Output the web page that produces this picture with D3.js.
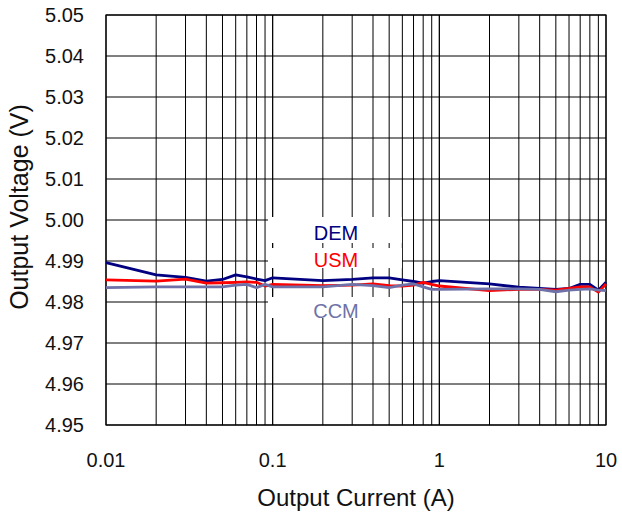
<!DOCTYPE html>
<html><head><meta charset="utf-8">
<script src="https://cdn.jsdelivr.net/npm/d3@7"></script>
<style>body{margin:0;background:#fff;} text{font-family:"Liberation Sans",Arial,sans-serif;}</style>
</head><body><svg id="c" width="622" height="513"></svg>
<script>
const currents = [0.01,0.02,0.03,0.04,0.05,0.06,0.07,0.08,0.09,0.1,0.2,0.3,0.4,0.5,0.6,0.7,0.8,0.9,1,2,3,4,5,6,7,8,9,10];
const demValues = [4.9896,4.9866,4.9860,4.9851,4.9855,4.9866,4.9861,4.9856,4.9852,4.9859,4.9852,4.9855,4.9859,4.9859,4.9854,4.9850,4.9846,4.9850,4.9852,4.9844,4.9836,4.9833,4.9831,4.9833,4.9843,4.9843,4.9829,4.9848];
const usmValues = [4.9854,4.9851,4.9856,4.9846,4.9847,4.9848,4.9849,4.9848,4.9839,4.9843,4.9840,4.9841,4.9844,4.9840,4.9839,4.9841,4.9848,4.9843,4.9839,4.9828,4.9831,4.9831,4.9829,4.9833,4.9837,4.9837,4.9824,4.9844];
const ccmValues = [4.9835,4.9837,4.9837,4.9837,4.9837,4.9841,4.9843,4.9835,4.9843,4.9837,4.9837,4.9843,4.9840,4.9835,4.9841,4.9844,4.9837,4.9831,4.9831,4.9832,4.9832,4.9831,4.9825,4.9829,4.9831,4.9832,4.9829,4.9828];
const seriesNames = ["DEM","USM","CCM"];
const seriesColors = ["#000080","#ff0000","#6e72a8"];
const yTicks = [4.95,4.96,4.97,4.98,4.99,5.00,5.01,5.02,5.03,5.04,5.05];
const xTicks = [0.01,0.1,1,10];
const xTickLabels = ["0.01","0.1","1","10"];
const xTitle = "Output Current (A)";
const yTitle = "Output Voltage (V)";

const svg = d3.select("#c");
const L=106, R=606, T=15, B=425;
const x = d3.scaleLog().domain([0.01,10]).range([L,R]);
const y = d3.scaleLinear().domain([4.95,5.05]).range([B,T]);

const minor = [];
for (let d of [0.01,0.1,1]) for (let k=1;k<=10;k++) minor.push(d*k);
svg.append("g").selectAll("line").data(minor).join("line")
  .attr("x1",d=>x(d)).attr("x2",d=>x(d)).attr("y1",T).attr("y2",B)
  .attr("stroke","#000").attr("stroke-width",1);
svg.append("g").selectAll("line").data(yTicks).join("line")
  .attr("x1",L).attr("x2",R).attr("y1",d=>y(d)).attr("y2",d=>y(d))
  .attr("stroke","#000").attr("stroke-width",1);
svg.append("rect").attr("x",L).attr("y",T).attr("width",R-L).attr("height",B-T)
  .attr("fill","none").attr("stroke","#000").attr("stroke-width",1.2);

const boxes = [[268,217,134,26],[268,248,134,20],[268,297,134,21]];
svg.append("g").selectAll("rect").data(boxes).join("rect")
  .attr("x",d=>d[0]).attr("y",d=>d[1]).attr("width",d=>d[2]).attr("height",d=>d[3]).attr("fill","#fff");

const all = [demValues, usmValues, ccmValues];
const line = d3.line().x((d,i)=>x(currents[i])).y(d=>y(d));
all.forEach((vals,i)=>{
  svg.append("path").attr("d",line(vals)).attr("fill","none")
    .attr("stroke",seriesColors[i]).attr("stroke-width",2.8).attr("stroke-linejoin","round");
});

const labelPos = [[336,240],[336,267],[336,318]];
seriesNames.forEach((n,i)=>{
  svg.append("text").attr("x",labelPos[i][0]).attr("y",labelPos[i][1]).attr("text-anchor","middle")
    .attr("font-size",20).attr("fill",seriesColors[i]).text(n);
});

svg.append("g").selectAll("text").data(yTicks).join("text")
  .attr("x",84).attr("y",d=>y(d)+7).attr("text-anchor","end").attr("font-size",20).attr("fill","#111")
  .text(d=>d3.format(".2f")(d));
svg.append("g").selectAll("text").data(xTicks).join("text")
  .attr("x",d=>x(d)).attr("y",467).attr("text-anchor","middle").attr("font-size",20).attr("fill","#111")
  .text((d,i)=>xTickLabels[i]);
svg.append("text").attr("x",356).attr("y",506).attr("text-anchor","middle").attr("font-size",24).attr("fill","#111").text(xTitle);
svg.append("text").attr("transform","translate(28,207) rotate(-90)").attr("text-anchor","middle").attr("font-size",25).attr("fill","#111").text(yTitle);
</script></body></html>
